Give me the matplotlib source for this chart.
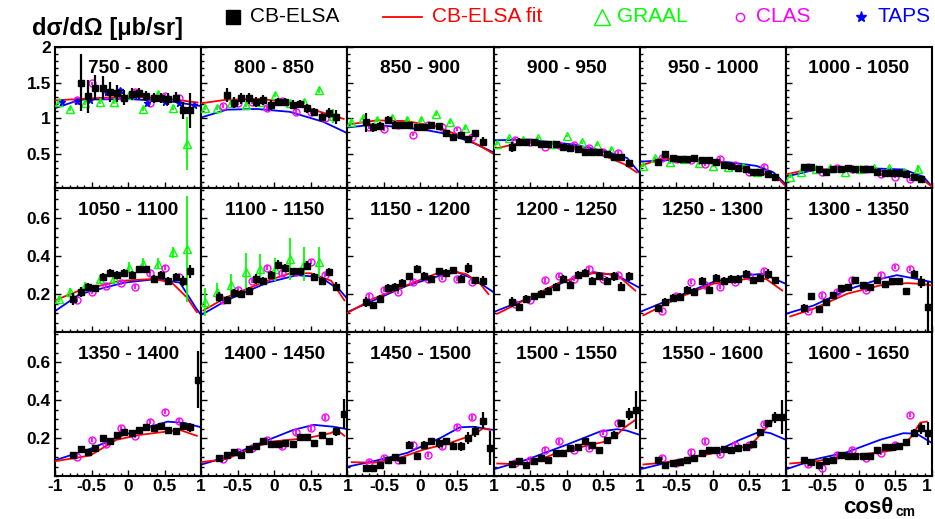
import numpy as np
import matplotlib.pyplot as plt
from matplotlib.lines import Line2D
from matplotlib.ticker import MultipleLocator, FixedLocator

plt.rcParams['font.family'] = ['Liberation Sans', 'DejaVu Sans']
plt.rcParams['axes.unicode_minus'] = False

bins = ["750 - 800", "800 - 850", "850 - 900", "900 - 950", "950 - 1000", "1000 - 1050",
        "1050 - 1100", "1100 - 1150", "1150 - 1200", "1200 - 1250", "1250 - 1300", "1300 - 1350",
        "1350 - 1400", "1400 - 1450", "1450 - 1500", "1500 - 1550", "1550 - 1600", "1600 - 1650"]

# CB-ELSA bin centres
cos16 = [-0.65, -0.55, -0.45, -0.35, -0.25, -0.15, -0.05, 0.05, 0.15, 0.25, 0.35, 0.45, 0.55, 0.65, 0.75, 0.85]
cos17 = [-0.75] + cos16
cos18 = cos17 + [0.95]
elsa_cos = [cos16, cos16, cos17, cos17, cos17, cos17,
            cos17, cos17, cos17, cos17, cos17, cos18,
            cos18, cos18, cos18, cos18, cos18, cos18]
elsa_val = [
    [1.50, 1.31, 1.43, 1.43, 1.37, 1.35, 1.29, 1.34, 1.35, 1.31, 1.29, 1.29, 1.27, 1.29, 1.11, 1.11],
    [1.33, 1.22, 1.28, 1.28, 1.23, 1.26, 1.19, 1.23, 1.23, 1.19, 1.20, 1.14, 1.09, 1.02, 1.07, 1.02],
    [0.94, 0.87, 0.89, 0.98, 0.91, 0.91, 0.91, 0.87, 0.87, 0.91, 0.89, 0.79, 0.74, 0.77, 0.71, 0.79, 0.67],
    [0.59, 0.67, 0.67, 0.67, 0.64, 0.64, 0.64, 0.60, 0.58, 0.57, 0.53, 0.52, 0.52, 0.50, 0.45, 0.45, 0.37],
    [0.39, 0.50, 0.44, 0.43, 0.43, 0.44, 0.41, 0.41, 0.38, 0.35, 0.33, 0.30, 0.28, 0.25, 0.24, 0.22, 0.17],
    [0.31, 0.31, 0.28, 0.24, 0.28, 0.28, 0.30, 0.28, 0.28, 0.28, 0.25, 0.23, 0.23, 0.23, 0.21, 0.18, 0.14],
    [0.175, 0.21, 0.24, 0.23, 0.29, 0.31, 0.30, 0.31, 0.30, 0.33, 0.33, 0.28, 0.30, 0.27, 0.29, 0.27, 0.32],
    [0.184, 0.17, 0.205, 0.20, 0.216, 0.28, 0.27, 0.30, 0.356, 0.34, 0.32, 0.32, 0.35, 0.29, 0.27, 0.316, 0.24],
    [0.158, 0.14, 0.175, 0.233, 0.237, 0.258, 0.293, 0.333, 0.298, 0.28, 0.32, 0.31, 0.325, 0.28, 0.339, 0.272, 0.268],
    [0.158, 0.132, 0.175, 0.188, 0.202, 0.219, 0.24, 0.28, 0.25, 0.30, 0.31, 0.268, 0.298, 0.268, 0.293, 0.24, 0.293],
    [0.128, 0.158, 0.18, 0.184, 0.223, 0.21, 0.268, 0.223, 0.286, 0.268, 0.28, 0.28, 0.307, 0.272, 0.286, 0.307, 0.272],
    [0.128, 0.188, 0.123, 0.158, 0.193, 0.233, 0.237, 0.277, 0.246, 0.24, 0.272, 0.254, 0.268, 0.268, 0.219, 0.307, 0.263, 0.132],
    [0.113, 0.143, 0.125, 0.148, 0.20, 0.183, 0.217, 0.23, 0.226, 0.243, 0.26, 0.252, 0.264, 0.243, 0.235, 0.264, 0.257, 0.508],
    [0.096, 0.113, 0.125, 0.113, 0.143, 0.157, 0.183, 0.17, 0.17, 0.174, 0.17, 0.205, 0.205, 0.174, 0.217, 0.183, 0.235, 0.327],
    [0.043, 0.043, 0.056, 0.083, 0.10, 0.087, 0.165, 0.104, 0.165, 0.183, 0.174, 0.183, 0.157, 0.157, 0.20, 0.235, 0.292, 0.148],
    [0.061, 0.078, 0.056, 0.078, 0.096, 0.087, 0.122, 0.122, 0.148, 0.153, 0.183, 0.165, 0.136, 0.188, 0.217, 0.278, 0.327, 0.348],
    [0.087, 0.056, 0.07, 0.073, 0.083, 0.096, 0.122, 0.136, 0.139, 0.143, 0.136, 0.148, 0.153, 0.17, 0.23, 0.278, 0.31, 0.31],
    [0.087, 0.073, 0.056, 0.078, 0.083, 0.113, 0.104, 0.104, 0.108, 0.108, 0.136, 0.153, 0.153, 0.16, 0.177, 0.226, 0.252, 0.226],
]
elsa_err = [
    [0.40, 0.23, 0.18, 0.16, 0.14, 0.12, 0.10, 0.08, 0.08, 0.07, 0.07, 0.07, 0.08, 0.08, 0.12, 0.25],
    [0.10, 0.08, 0.08, 0.08, 0.07, 0.07, 0.07, 0.06, 0.06, 0.06, 0.06, 0.06, 0.06, 0.06, 0.07, 0.10],
    [0.13, 0.06, 0.05, 0.05, 0.05, 0.04, 0.04, 0.04, 0.04, 0.04, 0.04, 0.04, 0.04, 0.04, 0.04, 0.04, 0.06],
    [0.07, 0.05, 0.04, 0.04, 0.03, 0.03, 0.03, 0.03, 0.03, 0.03, 0.03, 0.03, 0.03, 0.03, 0.03, 0.03, 0.03],
    [0.04, 0.04, 0.03, 0.03, 0.03, 0.03, 0.03, 0.03, 0.03, 0.03, 0.03, 0.03, 0.03, 0.03, 0.03, 0.03, 0.03],
    [0.03, 0.03, 0.03, 0.03, 0.03, 0.03, 0.03, 0.03, 0.03, 0.03, 0.03, 0.03, 0.03, 0.03, 0.03, 0.03, 0.03],
    [0.03, 0.025, 0.02, 0.02, 0.02, 0.02, 0.02, 0.02, 0.02, 0.02, 0.02, 0.02, 0.02, 0.02, 0.02, 0.025, 0.035],
    [0.025, 0.02, 0.02, 0.02, 0.02, 0.025, 0.02, 0.02, 0.025, 0.02, 0.02, 0.02, 0.025, 0.02, 0.02, 0.02, 0.025],
    [0.025, 0.02, 0.02, 0.02, 0.02, 0.02, 0.02, 0.02, 0.02, 0.02, 0.02, 0.02, 0.02, 0.02, 0.025, 0.02, 0.025],
    [0.025, 0.02, 0.02, 0.02, 0.02, 0.02, 0.02, 0.02, 0.02, 0.02, 0.02, 0.02, 0.02, 0.02, 0.025, 0.025, 0.025],
    [0.02, 0.02, 0.02, 0.02, 0.02, 0.02, 0.02, 0.02, 0.02, 0.02, 0.02, 0.02, 0.02, 0.02, 0.02, 0.025, 0.02],
    [0.02, 0.02, 0.015, 0.015, 0.015, 0.015, 0.015, 0.015, 0.015, 0.015, 0.015, 0.015, 0.015, 0.015, 0.015, 0.02, 0.03, 0.13],
    [0.015, 0.015, 0.015, 0.015, 0.015, 0.015, 0.015, 0.015, 0.015, 0.015, 0.015, 0.015, 0.015, 0.015, 0.02, 0.02, 0.025, 0.15],
    [0.015, 0.012, 0.012, 0.012, 0.012, 0.012, 0.012, 0.012, 0.012, 0.015, 0.012, 0.015, 0.015, 0.015, 0.015, 0.02, 0.025, 0.08],
    [0.01, 0.01, 0.01, 0.015, 0.015, 0.015, 0.02, 0.015, 0.02, 0.02, 0.025, 0.02, 0.02, 0.025, 0.03, 0.03, 0.045, 0.09],
    [0.012, 0.012, 0.012, 0.012, 0.012, 0.012, 0.012, 0.012, 0.012, 0.015, 0.015, 0.015, 0.015, 0.015, 0.02, 0.02, 0.03, 0.10],
    [0.012, 0.012, 0.012, 0.012, 0.012, 0.012, 0.012, 0.012, 0.012, 0.015, 0.015, 0.015, 0.015, 0.015, 0.02, 0.02, 0.03, 0.09],
    [0.012, 0.012, 0.012, 0.012, 0.012, 0.012, 0.012, 0.012, 0.012, 0.015, 0.015, 0.015, 0.015, 0.015, 0.02, 0.02, 0.03, 0.06],
]

# CB-ELSA fit (red)
fit_cos = [
    [-1, -0.5, 0, 0.5, 0.95],
    [-1, -0.65, -0.2, 0.2, 0.5, 0.95],
    [-1, -0.6, -0.2, 0.2, 0.5, 0.8, 1.0],
    [-0.95, -0.6, -0.2, 0.2, 0.5, 0.8, 0.96],
    [-1, -0.7, -0.3, 0.1, 0.4, 0.7, 0.9, 1.0],
    [-1, -0.7, -0.2, 0.3, 0.6, 0.85, 1.0],
    [-1, -0.66, -0.1, 0.35, 0.6, 0.8, 0.94],
    [-0.97, -0.65, -0.1, 0.22, 0.5, 0.78, 0.96],
    [-1, -0.65, -0.2, 0.27, 0.45, 0.63, 0.82, 0.93],
    [-0.95, -0.54, -0.09, 0.36, 0.68, 0.94],
    [-0.95, -0.45, 0.0, 0.46, 0.73, 0.95],
    [-0.94, -0.62, -0.16, 0.29, 0.66, 0.84, 1.0],
    [-1, -0.52, -0.16, 0.16, 0.71, 0.94],
    [-1, -0.65, -0.24, 0.0, 0.45, 0.77, 0.86, 0.96],
    [-0.94, -0.64, -0.28, 0.04, 0.4, 0.72, 0.86, 0.95],
    [-0.95, -0.54, -0.13, 0.33, 0.55, 0.69, 0.78, 0.94],
    [-0.95, -0.67, -0.2, 0.24, 0.51, 0.69, 0.83, 0.92],
    [-0.94, -0.58, -0.17, 0.29, 0.52, 0.7, 0.84, 0.93],
]
fit_val = [
    [1.25, 1.28, 1.30, 1.28, 1.22],
    [1.21, 1.26, 1.27, 1.23, 1.13, 0.99],
    [0.91, 0.97, 0.96, 0.89, 0.77, 0.62, 0.50],
    [0.58, 0.66, 0.65, 0.58, 0.48, 0.35, 0.24],
    [0.33, 0.43, 0.43, 0.39, 0.30, 0.22, 0.15, 0.04],
    [0.21, 0.28, 0.28, 0.26, 0.22, 0.15, 0.04],
    [0.167, 0.22, 0.27, 0.28, 0.26, 0.184, 0.105],
    [0.114, 0.184, 0.27, 0.31, 0.31, 0.27, 0.167],
    [0.10, 0.175, 0.245, 0.316, 0.32, 0.305, 0.254, 0.20],
    [0.096, 0.175, 0.263, 0.31, 0.305, 0.219],
    [0.088, 0.184, 0.254, 0.28, 0.28, 0.219],
    [0.082, 0.123, 0.202, 0.246, 0.258, 0.254, 0.246],
    [0.078, 0.108, 0.191, 0.217, 0.243, 0.212],
    [0.073, 0.09, 0.157, 0.183, 0.20, 0.226, 0.243, 0.212],
    [0.073, 0.07, 0.096, 0.139, 0.174, 0.217, 0.252, 0.243],
    [0.066, 0.061, 0.122, 0.165, 0.183, 0.217, 0.252, 0.296],
    [0.061, 0.07, 0.104, 0.139, 0.16, 0.235, 0.296, 0.296],
    [0.066, 0.078, 0.108, 0.125, 0.14, 0.20, 0.282, 0.287],
]

# model curve (blue)
model_cos = [
    [-1, -0.66, 0, 0.62, 1.0],
    [-1, -0.65, -0.24, 0.21, 0.67, 1.0],
    [-1, -0.64, 0.04, 0.41, 0.73, 1.0],
    [-1, -0.54, 0.1, 0.55, 0.83, 1.0],
    [-1, -0.45, 0.24, 0.6, 0.83, 1.0],
    [-1, -0.62, 0.06, 0.61, 0.88, 1.0],
    [-1, -0.66, -0.06, 0.4, 0.71, 0.94, 1.0],
    [-1, -0.65, -0.1, 0.31, 0.63, 0.9, 1.0],
    [-1, -0.64, -0.18, 0.27, 0.5, 0.73, 1.0],
    [-1, -0.54, 0.0, 0.37, 0.69, 1.0],
    [-1, -0.45, 0.0, 0.46, 0.69, 1.0],
    [-1, -0.62, -0.16, 0.29, 0.52, 0.79, 1.0],
    [-1, -0.52, -0.06, 0.54, 0.77, 1.0],
    [-1, -0.65, -0.19, 0.26, 0.54, 0.81, 1.0],
    [-1, -0.64, -0.18, 0.27, 0.54, 0.73, 1.0],
    [-1, -0.54, 0.0, 0.46, 0.69, 0.82, 1.0],
    [-1, -0.45, 0.0, 0.37, 0.65, 0.79, 1.0],
    [-1, -0.58, -0.17, 0.29, 0.61, 0.79, 1.0],
]
model_val = [
    [1.14, 1.26, 1.27, 1.23, 1.17],
    [1.01, 1.12, 1.13, 1.09, 0.95, 0.79],
    [0.87, 0.91, 0.84, 0.77, 0.65, 0.52],
    [0.69, 0.70, 0.63, 0.53, 0.44, 0.23],
    [0.39, 0.42, 0.38, 0.33, 0.24, 0.07],
    [0.18, 0.27, 0.30, 0.28, 0.18, 0.04],
    [0.11, 0.20, 0.26, 0.28, 0.26, 0.12, 0.09],
    [0.09, 0.167, 0.26, 0.30, 0.29, 0.22, 0.175],
    [0.105, 0.167, 0.245, 0.298, 0.316, 0.28, 0.21],
    [0.105, 0.175, 0.27, 0.316, 0.298, 0.233],
    [0.105, 0.193, 0.263, 0.30, 0.307, 0.254],
    [0.096, 0.14, 0.223, 0.28, 0.30, 0.28, 0.263],
    [0.083, 0.143, 0.217, 0.287, 0.28, 0.257],
    [0.06, 0.10, 0.174, 0.243, 0.27, 0.26, 0.247],
    [0.049, 0.078, 0.122, 0.20, 0.257, 0.26, 0.243],
    [0.035, 0.087, 0.165, 0.235, 0.247, 0.24, 0.217],
    [0.035, 0.087, 0.122, 0.191, 0.235, 0.226, 0.191],
    [0.035, 0.09, 0.125, 0.191, 0.226, 0.223, 0.174],
]

# GRAAL (first 8 bins)
graal_cos = [-0.95, -0.79, -0.59, -0.39, -0.19, 0.01, 0.21, 0.41, 0.61, 0.81]
graal_val = [
    [1.23, 1.13, 1.22, 1.23, 1.23, 1.33, 1.13, 1.34, 1.15, 0.64],
    [1.14, 1.14, 1.21, 1.19, 1.23, 1.33, 1.21, 1.23, 1.40, 1.03],
    [0.94, 1.00, 0.97, 1.00, 0.98, 0.98, 1.06, 0.95, 0.86],
    [0.64, 0.72, 0.69, 0.72, 0.64, 0.75, 0.66, 0.63, 0.56],
    [0.33, 0.44, 0.38, 0.43, 0.37, 0.33, 0.32, 0.32, 0.25],
    [0.18, 0.24, 0.28, 0.30, 0.25, 0.28, 0.30, 0.30, 0.25, 0.29],
    [0.175, 0.21, 0.245, 0.28, 0.285, 0.34, 0.36, 0.36, 0.42, 0.44],
    [0.158, 0.21, 0.25, 0.316, 0.33, 0.33, 0.386, 0.36, 0.37],
]
graal_err = [
    [0.03, 0.03, 0.03, 0.03, 0.03, 0.03, 0.03, 0.03, 0.04, 0.37],
    [0.03, 0.03, 0.03, 0.03, 0.03, 0.03, 0.03, 0.03, 0.04, 0.10],
    [0.03, 0.03, 0.03, 0.03, 0.03, 0.03, 0.03, 0.03, 0.03],
    [0.02, 0.02, 0.02, 0.02, 0.02, 0.02, 0.02, 0.02, 0.02],
    [0.02, 0.02, 0.02, 0.02, 0.02, 0.02, 0.02, 0.02, 0.02],
    [0.015, 0.015, 0.015, 0.015, 0.015, 0.015, 0.015, 0.015, 0.015, 0.05],
    [0.015, 0.02, 0.02, 0.02, 0.03, 0.03, 0.03, 0.03, 0.03, 0.28],
    [0.075, 0.05, 0.057, 0.10, 0.08, 0.06, 0.11, 0.09, 0.08],
]

# CLAS
clas_cos = [-0.7, -0.5, -0.3, -0.1, 0.1, 0.3, 0.5, 0.7]
clas_val = [
    [1.26, 1.49, 1.33, 1.31, 1.37, 1.21, 1.31, 1.28],
    [1.17, 1.21, 1.23, 1.14, 1.24, 1.09, 1.09, 1.00],
    [0.87, 0.85, 0.90, 0.77, 0.90, 0.88, 0.84, 0.74],
    [0.70, 0.67, 0.60, 0.62, 0.63, 0.58, 0.53, 0.51],
    [0.44, 0.43, 0.42, 0.36, 0.43, 0.34, 0.24, 0.32],
    [0.31, 0.25, 0.30, 0.28, 0.28, 0.21, 0.18, 0.14],
    [0.17, 0.21, 0.245, 0.26, 0.24, 0.31, 0.34, 0.29],
    [0.167, 0.22, 0.27, 0.34, 0.31, 0.316, 0.37, 0.30],
    [0.188, 0.223, 0.21, 0.263, 0.28, 0.286, 0.28, 0.263],
    [0.149, 0.17, 0.272, 0.298, 0.28, 0.33, 0.28, 0.30],
    [0.11, 0.188, 0.263, 0.25, 0.24, 0.263, 0.298, 0.32],
    [0.11, 0.193, 0.21, 0.272, 0.223, 0.30, 0.342, 0.333],
    [0.10, 0.191, 0.17, 0.252, 0.212, 0.287, 0.339, 0.292],
    [0.09, 0.125, 0.148, 0.191, 0.157, 0.23, 0.252, 0.31],
    [0.073, 0.096, 0.087, 0.165, 0.113, 0.157, 0.26, 0.31],
    [0.07, 0.085, 0.139, 0.183, 0.139, 0.148, 0.226, 0.282],
    [0.096, 0.066, 0.125, 0.183, 0.118, 0.165, 0.165, 0.275],
    [0.061, 0.043, 0.113, 0.136, 0.096, 0.122, 0.165, 0.322],
]
clas_err_row = [0.025, 0.012, 0.012]

# TAPS (first bin only)
taps_cos = [-0.91, -0.7, -0.52, -0.29, -0.11, 0.08, 0.26, 0.5, 0.7, 0.9]
taps_val = [1.23, 1.24, 1.25, 1.37, 1.40, 1.33, 1.22, 1.23, 1.21, 1.19]

# layout (pixels of a 935x519 figure)
W, H = 935, 519
col_left = [55 + 146.17 * i for i in range(7)]
row_edges = [47, 188, 332, 476]

fig = plt.figure(figsize=(9.35, 5.19), dpi=100)

for k in range(18):
    r, c = divmod(k, 6)
    x0, x1 = col_left[c], col_left[c + 1]
    y0, y1 = row_edges[r], row_edges[r + 1]
    ax = fig.add_axes([x0 / W, 1 - y1 / H, (x1 - x0) / W, (y1 - y0) / H])

    ax.plot(model_cos[k], model_val[k], color='#0000ff', lw=1.3, zorder=2)
    ax.plot(fit_cos[k], fit_val[k], color='#ff0000', lw=1.3, zorder=3)

    if k < len(graal_val):
        gv = graal_val[k]
        ax.errorbar(graal_cos[:len(gv)], gv, yerr=graal_err[k], fmt='^', ms=5.5,
                    mfc='none', mec='#00ff00', mew=1.0, ecolor='#00ff00', elinewidth=1.3,
                    capsize=0, zorder=4)
    ax.errorbar(clas_cos, clas_val[k], yerr=clas_err_row[r], fmt='o', ms=5,
                mfc='none', mec='#ff00ff', mew=1.0, ecolor='#ff00ff', elinewidth=1.3,
                capsize=0, zorder=5)
    if k == 0:
        ax.errorbar(taps_cos, taps_val, yerr=0.02, fmt='*', ms=5, color='#0000ff',
                    ecolor='#0000ff', elinewidth=1.0, capsize=0, zorder=5)
    ax.errorbar(elsa_cos[k], elsa_val[k], yerr=elsa_err[k], xerr=0.04, fmt='s', ms=4.5,
                color='black', ecolor='black', elinewidth=1.6, capsize=0, zorder=6)

    ax.set_xlim(-1, 1)
    if r == 0:
        ax.set_ylim(0.02, 2.0)
        ax.yaxis.set_major_locator(FixedLocator([0.5, 1.0, 1.5, 2.0]))
        ax.yaxis.set_minor_locator(MultipleLocator(0.1))
        ylabels = ["0.5", "1", "1.5", "2"]
    else:
        ax.set_ylim(0.0, 0.76)
        ax.yaxis.set_major_locator(FixedLocator([0.2, 0.4, 0.6]))
        ax.yaxis.set_minor_locator(MultipleLocator(0.05))
        ylabels = ["0.2", "0.4", "0.6"]
    ax.xaxis.set_major_locator(FixedLocator([-1, -0.5, 0, 0.5, 1]))
    ax.xaxis.set_minor_locator(MultipleLocator(0.1))

    ax.tick_params(which='both', direction='in', top=False, right=False, width=1.0)
    ax.tick_params(which='major', length=4)
    ax.tick_params(which='minor', length=2.2)

    if c == 0:
        ax.set_yticklabels(ylabels, fontsize=12.5, fontweight='bold')
    else:
        ax.set_yticklabels([])
    if r == 2:
        xl = ["-1", "-0.5", "0", "0.5", "1"] if c == 0 else ["", "-0.5", "0", "0.5", "1"]
        ax.set_xticklabels(xl, fontsize=12.5, fontweight='bold')
        if c == 5:
            ax.get_xticklabels()[-1].set_horizontalalignment('right')
    else:
        ax.set_xticklabels([])
    ax.tick_params(axis='y', which='major', pad=3)
    ax.tick_params(axis='x', which='major', pad=2)

    for s in ax.spines.values():
        s.set_linewidth(1.5)

    ax.text(0.5, 0.845, bins[k], transform=ax.transAxes, ha='center', va='center',
            fontsize=13.7, fontweight='bold')

# header legend
def fx(px):
    return px / W

def fy(py):
    return 1 - py / H

ly = 17
fig.add_artist(Line2D([fx(233)], [fy(ly)], marker='s', ms=10, color='black', ls='none'))
fig.text(fx(250), fy(ly), "CB-ELSA", fontsize=15, color='black', va='center')
fig.add_artist(Line2D([fx(383), fx(422)], [fy(ly), fy(ly)], color='#ff0000', lw=1.3))
fig.text(fx(432), fy(ly), "CB-ELSA fit", fontsize=15, color='#ff0000', va='center')
fig.add_artist(Line2D([fx(602)], [fy(ly)], marker='^', ms=12, mfc='none', mec='#00ff00',
                      mew=1.0, ls='none'))
fig.text(fx(617), fy(ly), "GRAAL", fontsize=15, color='#00ff00', va='center')
fig.add_artist(Line2D([fx(740)], [fy(ly)], marker='o', ms=6, mfc='none', mec='#ff00ff',
                      mew=1.0, ls='none'))
fig.text(fx(756), fy(ly), "CLAS", fontsize=15, color='#ff00ff', va='center')
fig.add_artist(Line2D([fx(861)], [fy(ly)], marker='*', ms=8, color='#0000ff', ls='none'))
fig.text(fx(877), fy(ly), "TAPS", fontsize=15, color='#0000ff', va='center')

fig.text(fx(32), fy(28), "dσ/dΩ [μb/sr]", fontsize=17, fontweight='bold', va='center')

fig.text(fx(893), fy(513), "cosθ", fontsize=16, fontweight='bold', ha='right', va='baseline')
fig.text(fx(895), fy(516), "cm", fontsize=10, fontweight='bold', ha='left', va='baseline')

fig.savefig('out.png', dpi=100)
